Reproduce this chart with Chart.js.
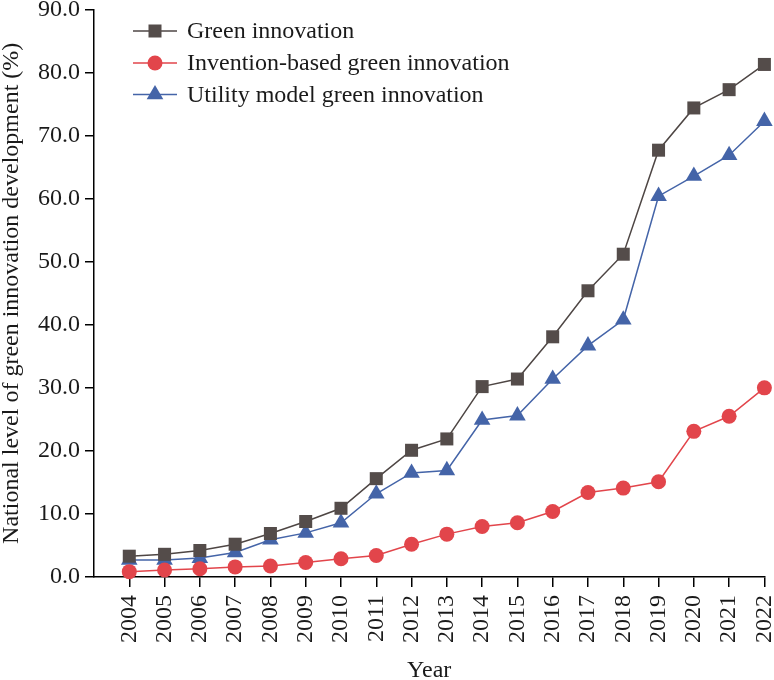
<!DOCTYPE html>
<html>
<head>
<meta charset="utf-8">
<script src="https://cdn.jsdelivr.net/npm/chart.js@4/dist/chart.umd.min.js"></script>
<style>
  html, body { margin: 0; padding: 0; background: #fff; }
  #wrap { width: 774px; height: 680px; position: relative; }
</style>
</head>
<body>
<div id="wrap"><canvas id="c"></canvas></div>
<script>
const years = [2004, 2005, 2006, 2007, 2008, 2009, 2010, 2011, 2012, 2013, 2014, 2015, 2016, 2017, 2018, 2019, 2020, 2021, 2022];
const greenInnovation = [3.3, 3.6, 4.2, 5.2, 6.9, 8.8, 10.9, 15.6, 20.1, 21.9, 30.2, 31.4, 38.1, 45.4, 51.2, 67.7, 74.4, 77.3, 81.3];
const inventionBased = [0.85, 1.1, 1.3, 1.6, 1.75, 2.3, 2.9, 3.4, 5.2, 6.8, 8.0, 8.6, 10.4, 13.4, 14.1, 15.1, 23.1, 25.5, 30.0];
const utilityModel = [2.7, 2.7, 3.0, 3.9, 5.9, 7.0, 8.6, 13.2, 16.5, 16.9, 24.9, 25.6, 31.4, 36.7, 40.8, 60.4, 63.6, 66.9, 72.3];
const seriesNames = ['Green innovation', 'Invention-based green innovation', 'Utility model green innovation'];
const yTicks = [0, 10, 20, 30, 40, 50, 60, 70, 80, 90];

const FONT = "'Times New Roman', 'Liberation Serif', serif";

function toPoints(vals) { return years.map((y, i) => ({ x: y, y: vals[i] })); }

const legendPlugin = {
  id: 'customLegend',
  afterDraw(chart) {
    const ctx = chart.ctx;
    const rows = [31, 63, 94.5];
    ctx.save();
    chart.data.datasets.forEach((ds, i) => {
      const y = rows[i];
      ctx.strokeStyle = ds.borderColor;
      ctx.lineWidth = ds.borderWidth;
      ctx.beginPath();
      ctx.moveTo(133, y);
      ctx.lineTo(177, y);
      ctx.stroke();
      ctx.fillStyle = ds.pointBackgroundColor;
      ctx.strokeStyle = ds.pointBorderColor;
      Chart.helpers.drawPoint(ctx, { pointStyle: ds.pointStyle, radius: ds.pointRadius, rotation: 0, borderWidth: 0 }, 155, y);
      ctx.fillStyle = '#1a1a1a';
      ctx.font = '24px ' + FONT;
      ctx.textAlign = 'left';
      ctx.textBaseline = 'middle';
      ctx.fillText(ds.label, 187, y + 1);
    });
    ctx.restore();
  }
};

new Chart(document.getElementById('c'), {
  type: 'line',
  data: {
    datasets: [
      {
        label: seriesNames[0], data: toPoints(greenInnovation),
        borderColor: '#4e4644', borderWidth: 1.5, clip: false,
        pointStyle: 'rect', pointRadius: 9.2, pointBackgroundColor: '#544c4a', pointBorderColor: '#544c4a', pointBorderWidth: 0
      },
      {
        label: seriesNames[1], data: toPoints(inventionBased),
        borderColor: '#e2454b', borderWidth: 1.5, clip: false,
        pointStyle: 'circle', pointRadius: 7.5, pointBackgroundColor: '#e2454b', pointBorderColor: '#e2454b', pointBorderWidth: 0
      },
      {
        label: seriesNames[2], data: toPoints(utilityModel),
        borderColor: '#4464a8', borderWidth: 1.5, clip: false,
        pointStyle: 'triangle', pointRadius: 9.6, pointBackgroundColor: '#4464a8', pointBorderColor: '#4464a8', pointBorderWidth: 0
      }
    ]
  },
  options: {
    responsive: true,
    maintainAspectRatio: false,
    animation: false,
    devicePixelRatio: 1,
    layout: { padding: { top: 7, right: 8, left: 0, bottom: 0 } },
    plugins: { legend: { display: false }, tooltip: { enabled: false } },
    scales: {
      x: {
        type: 'linear',
        min: 2003, max: 2022,
        afterBuildTicks(scale) { scale.ticks = years.map(v => ({ value: v })); },
        afterFit(scale) { scale.height = 103; scale.paddingLeft = 0; scale.paddingRight = 0; },
        ticks: {
          callback: v => String(v),
          minRotation: 90, maxRotation: 90, autoSkip: false,
          color: '#1a1a1a', padding: 8,
          font: { family: FONT, size: 24 }
        },
        grid: { display: true, drawOnChartArea: false, drawTicks: true, tickLength: 10, color: '#000', lineWidth: 1.5 },
        border: { display: true, color: '#000', width: 1.5 },
        title: { display: true, text: 'Year', color: '#1a1a1a', font: { family: FONT, size: 24, lineHeight: 1.0 }, padding: { top: 0, bottom: -3 } }
      },
      y: {
        min: 0, max: 90,
        afterBuildTicks(scale) { scale.ticks = yTicks.map(v => ({ value: v })); },
        afterFit(scale) { scale.width = 94; scale.paddingTop = 0; scale.paddingBottom = 0; },
        ticks: {
          callback: v => Number(v).toFixed(1),
          color: '#1a1a1a', padding: 5,
          font: { family: FONT, size: 24 }
        },
        grid: { display: true, drawOnChartArea: false, drawTicks: true, tickLength: 9, color: '#000', lineWidth: 1.5 },
        border: { display: true, color: '#000', width: 1.5 },
        title: { display: true, text: 'National level of green innovation development (%)', color: '#1a1a1a', font: { family: FONT, size: 24, lineHeight: 1.0 }, padding: { top: 0, bottom: 0 } }
      }
    }
  },
  plugins: [legendPlugin]
});
</script>
</body>
</html>
